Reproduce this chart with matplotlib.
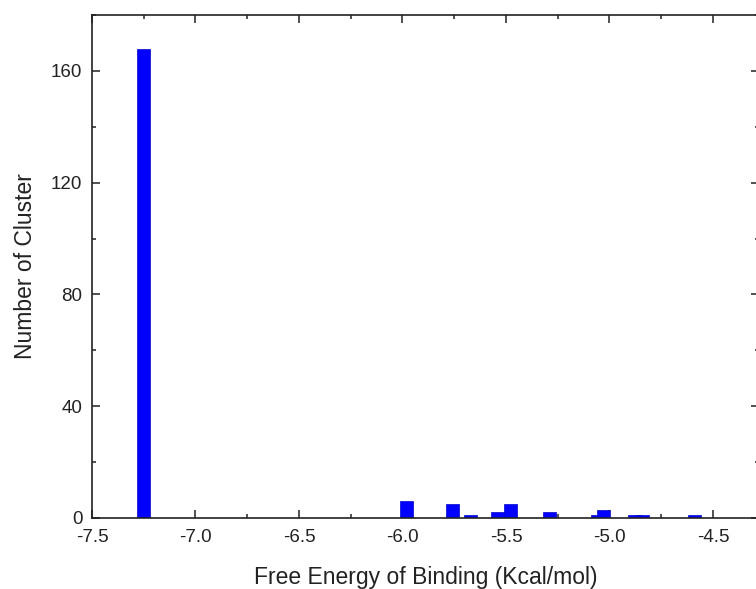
import matplotlib
matplotlib.use("Agg")
import matplotlib.pyplot as plt
from matplotlib.ticker import MultipleLocator

# cluster centres (kcal/mol) and counts
energy = [-7.25, -5.98, -5.76, -5.67, -5.54, -5.48, -5.29, -5.06, -5.03, -4.88, -4.84, -4.59]
count = [168, 6, 5, 1, 2, 5, 2, 1, 3, 1, 1, 1]
bar_width = 0.062

plt.rcParams['font.family'] = ['Liberation Sans', 'DejaVu Sans']

fig = plt.figure(figsize=(7.56, 5.89), dpi=100)
# the right side of the frame runs just past the picture edge, as in the source
x0, x1 = 92 / 756, 758.5 / 756
y0, y1 = (589 - 518) / 589, (589 - 15) / 589
ax = fig.add_axes([x0, y0, x1 - x0, y1 - y0])

ax.bar(energy, count, width=bar_width, color="#0000ff", edgecolor="#0000cc",
       linewidth=0.5, zorder=2)

ax.set_xlim(-7.5, -4.28)
ax.set_ylim(0, 180)
ax.xaxis.set_major_locator(MultipleLocator(0.5))
ax.xaxis.set_minor_locator(MultipleLocator(0.25))
ax.yaxis.set_major_locator(MultipleLocator(40))
ax.yaxis.set_minor_locator(MultipleLocator(20))
ax.xaxis.set_major_formatter(plt.FormatStrFormatter("%.1f"))

ax.tick_params(which="both", direction="in", top=True, right=True,
               width=1.1, labelsize=13.5, zorder=3, colors="#222222")
ax.tick_params(which="major", length=6)
ax.tick_params(which="minor", length=3)
ax.tick_params(axis="x", pad=8)
ax.tick_params(axis="y", pad=7)
for s in ax.spines.values():
    s.set_linewidth(1.2)
    s.set_color("#222222")
    s.set_zorder(3)

ax.set_xlabel("Free Energy of Binding (Kcal/mol)", fontsize=16.5, labelpad=14,
              color="#222222")
ax.set_ylabel("Number of Cluster", fontsize=16.5, labelpad=10, color="#222222")

fig.savefig("out.png", dpi=100)
